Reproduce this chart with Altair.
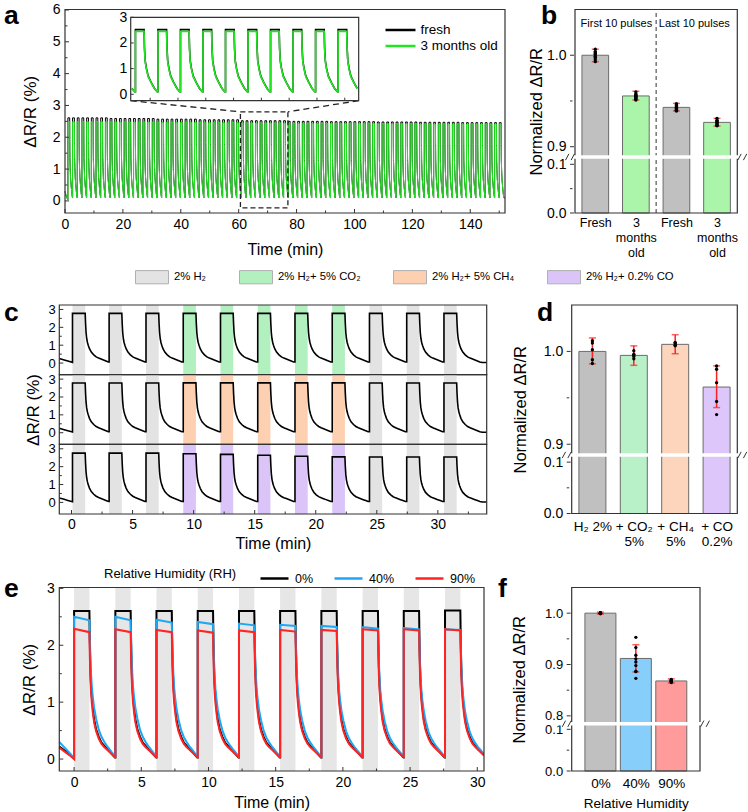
import json
import altair as alt
import pandas as pd

FONT = "Liberation Sans"
INK = "#333333"
ERR_RED = "#ff1f1f"
BREAK_SHAPE = "M-1,0.7L-0.25,-0.7M0.25,0.7L1,-0.7"
PAGE_W, PAGE_H = 748, 812

# ---------------- panel a: 150 min of H2 pulses, fresh vs aged ----------------
A_SERIES = ["fresh", "3 months old"]
A_COLORS = ["#000000", "#22e622"]
A_FIRST_ONSET = 1.0
A_PERIOD = 1.62
A_PULSE_COUNT = 93
A_ON = 0.62
A_T_END = 152.0
A_BLOCK = 15.2
A_PEAK_FRESH = [2.61, 2.59, 2.57, 2.55, 2.52, 2.50, 2.49, 2.48, 2.47, 2.46]
A_PEAK_OLD = [2.49, 2.48, 2.47, 2.46, 2.45, 2.44, 2.44, 2.43, 2.42, 2.42]
A_DECAY_DT = [0.0, 0.03, 0.08, 0.17, 0.30, 0.52, 0.75, 0.95]
A_DECAY_FR = [1.0, 0.72, 0.52, 0.40, 0.28, 0.18, 0.09, 0.04]
A_LEAD_T = [0.0, 0.5, 1.0]
A_LEAD_V = [0.30, 0.12, 0.04]
A_ZOOM_T = [60.6, 77.0]
A_ZOOM_V = [-0.22, 2.8]
A_INSET_AT_T = [22.7, 101.45]
A_INSET_AT_V = [3.149, 5.77]
A_INSET_YDOM = [-0.25, 3.0]

# ---------------- panel b ----------------
B_LABELS = ["Fresh", "3|months|old", "Fresh", "3|months|old"]
B_COLORS = ["#c0c0c0", "#aaf5aa", "#c0c0c0", "#aaf5aa"]
B_MEAN = [1.000, 0.9555, 0.9430, 0.9266]
B_LO = [0.9930, 0.9511, 0.9390, 0.9226]
B_HI = [1.0066, 0.9606, 0.9474, 0.9310]
B_PTS = [
    [1.0066, 1.004, 1.003, 1.002, 1.001, 0.999, 0.998, 0.997, 0.995, 0.993],
    [0.960, 0.958, 0.957, 0.956, 0.955, 0.955, 0.954, 0.953, 0.952, 0.951],
    [0.947, 0.946, 0.945, 0.944, 0.943, 0.942, 0.941, 0.940, 0.940, 0.939],
    [0.931, 0.929, 0.928, 0.927, 0.927, 0.926, 0.925, 0.924, 0.923, 0.923],
]
B_NOTES = ["First 10 pulses", "Last 10 pulses"]
B_NOTE_POS = [0.52, 2.44]
B_NOTE_V = [1.034, 1.034]

# ---------------- panel c: interfering gases ----------------
GAS_LABELS = ["2% H\u2082", "2% H\u2082+ 5% CO\u2082", "2% H\u2082+ 5% CH\u2084", "2% H\u2082+ 0.2% CO"]
GAS_COLORS = ["#e3e3e3", "#b3f0c0", "#fdd0b2", "#dac4f8"]
C_ONSETS = [0.08, 3.08, 6.10, 9.15, 12.20, 15.25, 18.30, 21.35, 24.40, 27.45, 30.50]
C_ON = 1.04
C_T_END = 34.0
C_GAS_TOP = [0, 0, 0, 1, 1, 1, 1, 1, 0, 0, 0]
C_GAS_MID = [0, 0, 0, 2, 2, 2, 2, 2, 0, 0, 0]
C_GAS_BOT = [0, 0, 0, 3, 3, 3, 3, 3, 0, 0, 0]
C_PEAK_TOP = [2.78, 2.78, 2.78, 2.78, 2.78, 2.78, 2.78, 2.78, 2.78, 2.78, 2.78]
C_PEAK_MID = [2.78, 2.78, 2.78, 2.79, 2.79, 2.79, 2.79, 2.79, 2.78, 2.78, 2.78]
C_PEAK_BOT = [2.76, 2.76, 2.76, 2.72, 2.69, 2.64, 2.58, 2.55, 2.54, 2.54, 2.54]
C_DECAY_DT = [0.0, 0.03, 0.07, 0.12, 0.18, 0.25, 0.35, 0.5, 0.7, 0.9, 1.1, 1.3, 1.5, 1.7, 1.9, 2.1, 2.5]
C_DECAY_FR = [1.0, 0.80, 0.62, 0.50, 0.42, 0.36, 0.29, 0.22, 0.165, 0.125, 0.10, 0.08, 0.06, 0.04, 0.02, 0.01, 0.0]
C_LEAD_T = [-1.0, -0.6, -0.3, 0.08]
C_LEAD_V = [0.25, 0.17, 0.11, 0.04]

# ---------------- panel d ----------------
D_LABELS = ["H\u2082 2%", "+ CO\u2082|5%", "+ CH\u2084|5%", "+ CO|0.2%"]
D_COLORS = ["#c0c0c0", "#b8f0c8", "#fcd5bc", "#dcc6fa"]
D_MEAN = [1.000, 0.9957, 1.0076, 0.9616]
D_LO = [0.9866, 0.9850, 0.9975, 0.9395]
D_HI = [1.0145, 1.0060, 1.0180, 0.9844]
D_PTS = [
    [1.0116, 1.0018, 0.9910, 0.9870, 1.0090],
    [1.0007, 0.9970, 0.9946, 0.9920, 0.9960],
    [1.0098, 1.0080, 1.0060, 1.0065, 1.0090],
    [0.9844, 0.9808, 0.9663, 0.9460, 0.9319],
]

# ---------------- panel e: humidity ----------------
E_SERIES = ["0%", "40%", "90%"]
E_COLORS = ["#000000", "#1ea7f5", "#ff2424"]
E_ONSETS = [0.0, 3.07, 6.13, 9.20, 12.27, 15.33, 18.40, 21.47, 24.53, 27.60]
E_ON = 1.14
E_T_END = 30.5
E_PEAK_START = {
    "0%": [2.60, 2.60, 2.60, 2.60, 2.60, 2.60, 2.60, 2.60, 2.60, 2.61],
    "40%": [2.50, 2.50, 2.45, 2.41, 2.38, 2.36, 2.34, 2.32, 2.30, 2.28],
    "90%": [2.29, 2.28, 2.27, 2.26, 2.26, 2.27, 2.27, 2.28, 2.28, 2.28],
}
E_PEAK_END = {
    "0%": [2.60, 2.60, 2.60, 2.60, 2.60, 2.60, 2.60, 2.60, 2.60, 2.61],
    "40%": [2.44, 2.44, 2.40, 2.37, 2.35, 2.34, 2.32, 2.29, 2.28, 2.27],
    "90%": [2.23, 2.23, 2.23, 2.22, 2.23, 2.24, 2.25, 2.26, 2.26, 2.26],
}
E_DECAY_DT = [0.0, 0.03, 0.07, 0.12, 0.18, 0.25, 0.35, 0.5, 0.7, 0.9, 1.1, 1.3, 1.5, 1.7, 1.9, 2.1, 2.5]
E_DECAY_FR = {
    "0%": [1.0, 0.80, 0.62, 0.50, 0.42, 0.35, 0.27, 0.20, 0.15, 0.11, 0.09, 0.07, 0.05, 0.03, 0.01, 0.0, 0.0],
    "40%": [1.0, 0.88, 0.74, 0.62, 0.52, 0.45, 0.37, 0.29, 0.21, 0.16, 0.125, 0.095, 0.07, 0.045, 0.02, 0.008, 0.0],
    "90%": [1.0, 0.82, 0.65, 0.53, 0.44, 0.37, 0.29, 0.22, 0.16, 0.12, 0.095, 0.075, 0.055, 0.035, 0.015, 0.005, 0.0],
}
E_LEAD_T = [-1.1, -0.7, -0.35, 0.0]
E_LEAD_V = {
    "0%": [0.22, 0.15, 0.08, 0.01],
    "40%": [0.30, 0.20, 0.11, 0.02],
    "90%": [0.20, 0.13, 0.07, 0.0],
}

# ---------------- panel f ----------------
F_LABELS = ["0%", "40%", "90%"]
F_COLORS = ["#c0c0c0", "#87cefa", "#ff9b9b"]
F_MEAN = [1.000, 0.9118, 0.8680]
F_LO = [0.998, 0.8856, 0.864]
F_HI = [1.002, 0.9386, 0.872]
F_PTS = [
    [1.001, 1.000, 0.999, 1.000, 1.000, 0.999, 1.001, 1.000],
    [0.953, 0.933, 0.918, 0.911, 0.905, 0.898, 0.887, 0.886, 0.873],
    [0.871, 0.869, 0.867, 0.866, 0.868, 0.870, 0.865, 0.868],
]

# ---------------- plot areas on the page (x0, x1, y0, y1 in px) ----------------
GEO = {
    "a": (65.0, 505.0, 9.5, 213.0),
    "b": (570.0, 742.3, 9.5, 213.0),
    "c": (59.3, 486.7, 305.0, 514.0),
    "d": (566.7, 742.3, 305.0, 513.5),
    "e": (59.3, 484.0, 587.5, 771.0),
    "f": (566.7, 705.0, 587.5, 771.0),
}
A_XDOM = [0, 152]
A_YDOM = [-0.38, 6.015]
C_XDOM = [-1, 34]
C_YDOM = [-0.65, 3.25]
E_XDOM = [-1.1, 30.5]
E_YDOM = [-0.21, 3.015]


def pulse_trace(onsets, on_time, h_start, h_end, decay_dt, decay_fr, t_end, lead_t, lead_v):
    """Square gas pulses: plateau while gas is on, then the recorded recovery profile."""
    t = list(lead_t)
    v = list(lead_v)
    for i, t0 in enumerate(onsets):
        t_next = onsets[i + 1] if i + 1 < len(onsets) else t_end
        t_off = t0 + on_time
        t += [t0, t_off]
        v += [h_start[i], h_end[i]]
        last = h_end[i]
        for dt, fr in zip(decay_dt[1:], decay_fr[1:]):
            if t_off + dt >= t_next:
                break
            last = h_end[i] * fr
            t.append(t_off + dt)
            v.append(last)
        t.append(t_next)
        v.append(last)
    return t, v


def lin(dom, rng):
    return alt.Scale(domain=dom, range=rng, nice=False, zero=False)


def make_axis(**kw):
    base = dict(
        grid=False, domain=False, ticks=False, labelFlush=False, labelOverlap=False,
        labelFont=FONT, titleFont=FONT, labelFontSize=14, titleFontSize=16,
        titleFontWeight=400, labelColor="black", titleColor="black",
    )
    base.update(kw)
    return alt.Axis(**base)


def axis_left(x0, **kw):
    return make_axis(orient="left", offset=-x0, **kw)


def axis_bottom(y1, **kw):
    return make_axis(orient="bottom", offset=y1 - PAGE_H, **kw)


def letter(ch, x, y):
    return alt.Chart(pd.DataFrame({"s": [ch]})).mark_text(
        fontSize=26.5, fontWeight="bold", align="left", baseline="alphabetic", color="black"
    ).encode(text="s:N", x=alt.value(x), y=alt.value(y))


def yticks(vals, ys, x0, length):
    return alt.Chart(pd.DataFrame({"tv": vals})).mark_rule(color=INK, strokeWidth=1).encode(
        y=alt.Y("tv:Q", scale=ys), x=alt.value(x0), x2=alt.value(x0 + length)
    )


def xticks(vals, xs, ybase, length):
    return alt.Chart(pd.DataFrame({"tt": vals})).mark_rule(color=INK, strokeWidth=1).encode(
        x=alt.X("tt:Q", scale=xs), y=alt.value(ybase), y2=alt.value(ybase - length)
    )


def frame(xs, ys, xdom, ydom):
    return alt.Chart(pd.DataFrame({
        "fx0": [xdom[0]], "fx1": [xdom[-1]], "fy0": [ydom[0]], "fy1": [ydom[-1]],
    })).mark_rect(fillOpacity=0, stroke=INK, strokeWidth=1.2).encode(
        x=alt.X("fx0:Q", scale=xs), x2="fx1:Q", y=alt.Y("fy0:Q", scale=ys), y2="fy1:Q"
    )


def halves(a, b, step):
    out, v = [], a
    while v <= b + 1e-9:
        out.append(round(v, 4))
        v += step
    return out


# ======================= panel a =======================
ax0, ax1, ay0, ay1 = GEO["a"]
XA = lin(A_XDOM, [ax0, ax1])
YA = lin(A_YDOM, [ay1, ay0])


def a_px_x(t):
    return ax0 + (t - A_XDOM[0]) / (A_XDOM[1] - A_XDOM[0]) * (ax1 - ax0)


def a_px_y(v):
    return ay0 + (A_YDOM[1] - v) / (A_YDOM[1] - A_YDOM[0]) * (ay1 - ay0)


a_onsets = [A_FIRST_ONSET + k * A_PERIOD for k in range(A_PULSE_COUNT)]
a_rows = []
for name, blocks in zip(A_SERIES, [A_PEAK_FRESH, A_PEAK_OLD]):
    peaks = [blocks[min(int(t0 // A_BLOCK), len(blocks) - 1)] for t0 in a_onsets]
    tt, vv = pulse_trace(a_onsets, A_ON, peaks, peaks, A_DECAY_DT, A_DECAY_FR, A_T_END, A_LEAD_T, A_LEAD_V)
    for i, (t, v) in enumerate(zip(tt, vv)):
        a_rows.append({"series": name, "t": t, "v": v, "i": i})
df_a = pd.DataFrame(a_rows)

a_lines = alt.Chart(df_a).mark_line(strokeWidth=1).encode(
    x=alt.X("t:Q", scale=XA, axis=axis_bottom(ay1, values=list(range(0, 141, 20)), title="Time (min)",
                                             titlePadding=10, labelPadding=4)),
    y=alt.Y("v:Q", scale=YA, axis=axis_left(ax0, values=list(range(0, 7)), format="d", title="\u0394R/R (%)",
                                           titlePadding=13, labelPadding=5, titleFontSize=17)),
    color=alt.Color("series:N", scale=alt.Scale(domain=A_SERIES, range=A_COLORS), legend=alt.Legend(
        title=None, orient="none", legendX=391.5, legendY=21, direction="vertical",
        symbolType="M-2,0H2", symbolSize=225, symbolStrokeWidth=2.5,
        labelFontSize=13.5, labelOffset=11, rowPadding=0, padding=0,
    )),
    order=alt.Order("i:Q"),
)
zoom_box = alt.Chart(pd.DataFrame({
    "t0": [A_ZOOM_T[0]], "t1": [A_ZOOM_T[1]], "v0": [A_ZOOM_V[0]], "v1": [A_ZOOM_V[1]],
})).mark_rect(fillOpacity=0, stroke="#222222", strokeWidth=1.3, strokeDash=[5, 3]).encode(
    x=alt.X("t0:Q", scale=XA), x2="t1:Q", y=alt.Y("v0:Q", scale=YA), y2="v1:Q"
)
connectors = alt.Chart(pd.DataFrame({
    "t0": A_INSET_AT_T, "v0": [A_INSET_AT_V[0]] * 2, "t1": A_ZOOM_T, "v1": [A_ZOOM_V[1]] * 2,
})).mark_rule(color="#222222", strokeWidth=1.3, strokeDash=[6, 4]).encode(
    x=alt.X("t0:Q", scale=XA), y=alt.Y("v0:Q", scale=YA), x2="t1:Q", y2="v1:Q"
)
a_main = alt.layer(
    a_lines, zoom_box, connectors,
    xticks(list(range(0, 141, 20)), XA, ay1, 4), xticks(list(range(10, 151, 20)), XA, ay1, 2.5),
    yticks(list(range(0, 7)), YA, ax0, 4), yticks(halves(0.5, 5.5, 1.0), YA, ax0, 2.5),
    frame(XA, YA, A_XDOM, A_YDOM),
)

# zoomed inset, placed inside panel a
in_x0, in_x1 = a_px_x(A_INSET_AT_T[0]), a_px_x(A_INSET_AT_T[1])
in_y1, in_y0 = a_px_y(A_INSET_AT_V[0]), a_px_y(A_INSET_AT_V[1])
XI = lin(A_ZOOM_T, [in_x0, in_x1])
YI = lin(A_INSET_YDOM, [in_y1, in_y0])
df_in = df_a[(df_a.t >= A_ZOOM_T[0]) & (df_a.t <= A_ZOOM_T[1])]
inset_layers = []
for k, (name, col) in enumerate(zip(A_SERIES, A_COLORS)):
    if k == 0:
        xenc = alt.X("t:Q", scale=XI, axis=axis_bottom(in_y1, labels=False, title=None))
        yenc = alt.Y("v:Q", scale=YI, axis=axis_left(in_x0, values=[0, 1, 2, 3], format="d",
                                                    title=None, labelPadding=4))
    else:
        xenc = alt.X("t:Q", scale=XI)
        yenc = alt.Y("v:Q", scale=YI)
    inset_layers.append(
        alt.Chart(df_in[df_in.series == name]).mark_line(strokeWidth=1.6, color=col).encode(
            x=xenc, y=yenc, order=alt.Order("i:Q")
        )
    )
a_inset = alt.layer(
    *inset_layers,
    xticks(list(range(62, 77, 2)), XI, in_y1, 3),
    yticks([0, 1, 2, 3], YI, in_x0, 3),
    frame(XI, YI, A_ZOOM_T, A_INSET_YDOM),
)


# ======================= bar panels (b, d, f) with a broken y axis =======================
def bar_panel(key, labels, colors, mean, lo, hi, pts, xdom, ydom, yrange, y_major, y_minor,
              bar_w, y_title_pad, label_pad, label_size, x_title=None, x_title_pad=4,
              y_label_size=14, extras=()):
    x0, x1, y0, y1 = GEO[key]
    n = len(labels)
    XS = lin(xdom, [x0, x1])
    YS = lin(ydom, yrange)
    lab_expr = "split(" + json.dumps(labels, ensure_ascii=False) + "[datum.value], '|')"
    bars_df = pd.DataFrame({"pos": list(range(n)), "mean": mean, "lo": lo, "hi": hi, "base": [0.0] * n})
    bars = alt.Chart(bars_df).mark_bar(size=bar_w, stroke="#6b6b6b", strokeWidth=1).encode(
        x=alt.X("pos:Q", scale=XS, axis=axis_bottom(
            y1, values=list(range(n)), labelExpr=lab_expr, title=x_title, labelFontSize=label_size,
            labelLineHeight=15.3, labelPadding=label_pad, titlePadding=x_title_pad, titleFontSize=13.5,
        )),
        y=alt.Y("mean:Q", scale=YS, axis=axis_left(
            x0, values=y_major, format=".1f", title="Normalized \u0394R/R", titlePadding=y_title_pad,
            titleFontSize=16.5, labelPadding=4, labelFontSize=y_label_size,
        )),
        y2="base:Q",
        fill=alt.Fill("pos:N", scale=alt.Scale(domain=list(range(n)), range=colors), legend=None),
    )
    err = alt.Chart(bars_df).mark_rule(color=ERR_RED, strokeWidth=1.5).encode(
        x=alt.X("pos:Q", scale=XS), y=alt.Y("lo:Q", scale=YS), y2="hi:Q"
    )
    caps_df = pd.DataFrame({"pos": list(range(n)) * 2, "v": list(lo) + list(hi)})
    caps = alt.Chart(caps_df).mark_tick(color=ERR_RED, thickness=1.5, size=7, orient="horizontal").encode(
        x=alt.X("pos:Q", scale=XS), y=alt.Y("v:Q", scale=YS)
    )
    pts_df = pd.DataFrame([{"pos": i, "v": p} for i, ps in enumerate(pts) for p in ps])
    dots = alt.Chart(pts_df).mark_circle(size=11, color="black", opacity=1).encode(
        x=alt.X("pos:Q", scale=XS), y=alt.Y("v:Q", scale=YS)
    )
    brk_df = pd.DataFrame({"v": [(ydom[1] + ydom[2]) / 2]})
    gap = alt.Chart(brk_df).mark_rule(color="white", strokeWidth=3.5).encode(
        y=alt.Y("v:Q", scale=YS), x=alt.value(x0 - 15), x2=alt.value(x1 + 6)
    )
    brk = [
        alt.Chart(brk_df).mark_point(shape=BREAK_SHAPE, size=80, filled=False, color=INK,
                                     strokeWidth=1, opacity=1).encode(y=alt.Y("v:Q", scale=YS), x=alt.value(px))
        for px in (x0, x1)
    ]
    layers = [bars]
    for ex in extras:
        layers.append(ex(XS, YS))
    layers += [frame(XS, YS, xdom, ydom), gap, err, caps, dots, *brk,
               yticks(y_major, YS, x0, 4), yticks(y_minor, YS, x0, 2.5)]
    return alt.layer(*layers)


def b_divider(XS, YS):
    return alt.Chart(pd.DataFrame({"pos": [1.5], "v0": [0.0], "v1": [1.05]})).mark_rule(
        color="#555555", strokeDash=[4, 3], strokeWidth=1.2
    ).encode(x=alt.X("pos:Q", scale=XS), y=alt.Y("v0:Q", scale=YS), y2="v1:Q")


def b_notes(XS, YS):
    return alt.Chart(pd.DataFrame({"pos": B_NOTE_POS, "v": B_NOTE_V, "txt": B_NOTES})).mark_text(
        fontSize=11, color="black"
    ).encode(x=alt.X("pos:Q", scale=XS), y=alt.Y("v:Q", scale=YS), text="txt:N")


panel_b = bar_panel(
    "b", B_LABELS, B_COLORS, B_MEAN, B_LO, B_HI, B_PTS, [-0.5, 3.5],
    [0, 0.1119, 0.8904, 1.05], [213.0, 158.5, 155.5, 9.5], [0, 0.1, 0.9, 1.0], [0.05, 0.95],
    26.7, 2, 3, 12.5, extras=(b_divider, b_notes),
)
panel_d = bar_panel(
    "d", D_LABELS, D_COLORS, D_MEAN, D_LO, D_HI, D_PTS, [-0.5, 3.5],
    [0, 0.111, 0.89, 1.05], [513.5, 456.5, 453.5, 305.0], [0, 0.1, 0.9, 1.0], [0.05, 0.95],
    27, 15, 6, 13.5,
)
panel_f = bar_panel(
    "f", F_LABELS, F_COLORS, F_MEAN, F_LO, F_HI, F_PTS, [-0.81, 2.81],
    [0, 0.108, 0.789, 1.05], [771.0, 726.0, 721.5, 587.5], [0, 0.1, 0.8, 0.9, 1.0], [0.05, 0.85, 0.95],
    31, 17, 5, 13.5, x_title="Relative Humidity", x_title_pad=7, y_label_size=13,
)

# ======================= panel c: three stacked traces =======================
cx0, cx1, cy0, cy1 = GEO["c"]
sub_h = (cy1 - cy0) / 3
GAS_SCALE = alt.Scale(domain=GAS_LABELS, range=GAS_COLORS)


def c_sub(row, gas_idx, peaks):
    top, bot = cy0 + row * sub_h, cy0 + (row + 1) * sub_h
    XC = lin(C_XDOM, [cx0, cx1])
    YC = lin(C_YDOM, [bot, top])
    bands_df = pd.DataFrame({
        "start": C_ONSETS, "end": [t + C_ON for t in C_ONSETS], "gas": [GAS_LABELS[g] for g in gas_idx],
        "lo": [C_YDOM[0]] * len(C_ONSETS), "hi": [C_YDOM[1]] * len(C_ONSETS),
    })
    tt, vv = pulse_trace(C_ONSETS, C_ON, peaks, peaks, C_DECAY_DT, C_DECAY_FR, C_T_END, C_LEAD_T, C_LEAD_V)
    trace_df = pd.DataFrame({"t": tt, "v": vv, "i": list(range(len(tt)))})
    legend = alt.Legend(
        title=None, orient="none", legendX=135, legendY=260, direction="horizontal",
        symbolType="M-1,-0.4H1V0.4H-1Z", symbolSize=1089, symbolStrokeColor="#b0b0b0",
        symbolStrokeWidth=1, symbolOpacity=1, labelFontSize=11.3, labelOffset=5, columnPadding=30,
        gridAlign="each", padding=0,
    ) if row == 0 else None
    if row == 2:
        xaxis = axis_bottom(bot, values=list(range(0, 31, 5)), title="Time (min)", titlePadding=4, labelPadding=3)
    else:
        xaxis = axis_bottom(bot, labels=False, title=None)
    bands = alt.Chart(bands_df).mark_rect().encode(
        x=alt.X("start:Q", scale=XC, axis=xaxis), x2="end:Q",
        y=alt.Y("lo:Q", scale=YC, axis=axis_left(
            cx0, values=[0, 1, 2, 3], format="d", title="\u0394R/R (%)" if row == 1 else None,
            labelFontSize=13, titlePadding=6, labelPadding=4, titleFontSize=17,
        )),
        y2="hi:Q",
        color=alt.Color("gas:N", scale=GAS_SCALE, legend=legend),
    )
    line = alt.Chart(trace_df).mark_line(color="black", strokeWidth=1.6).encode(
        x=alt.X("t:Q", scale=XC), y=alt.Y("v:Q", scale=YC), order=alt.Order("i:Q"),
    )
    layers = [bands, line, yticks([0, 1, 2, 3], YC, cx0, 4), yticks([0.5, 1.5, 2.5], YC, cx0, 2.5)]
    if row == 2:
        layers += [xticks(list(range(0, 31, 5)), XC, bot, 4), xticks(halves(2.5, 32.5, 5), XC, bot, 2.5)]
    layers.append(frame(XC, YC, C_XDOM, C_YDOM))
    return alt.layer(*layers)


# ======================= panel e =======================
ex0, ex1, ey0, ey1 = GEO["e"]
XE = lin(E_XDOM, [ex0, ex1])
YE = lin(E_YDOM, [ey1, ey0])
e_rows = []
for name in E_SERIES:
    tt, vv = pulse_trace(E_ONSETS, E_ON, E_PEAK_START[name], E_PEAK_END[name], E_DECAY_DT,
                         E_DECAY_FR[name], E_T_END, E_LEAD_T, E_LEAD_V[name])
    for i, (t, v) in enumerate(zip(tt, vv)):
        e_rows.append({"rh": name, "t": t, "v": v, "i": i})
df_e = pd.DataFrame(e_rows)
e_bands = alt.Chart(pd.DataFrame({
    "start": E_ONSETS, "end": [t + E_ON for t in E_ONSETS],
    "lo": [E_YDOM[0]] * len(E_ONSETS), "hi": [E_YDOM[1]] * len(E_ONSETS),
})).mark_rect(color="#e6e6e6").encode(
    x=alt.X("start:Q", scale=XE, axis=axis_bottom(ey1, values=list(range(0, 31, 5)), title="Time (min)",
                                                 titlePadding=5, labelPadding=4)),
    x2="end:Q",
    y=alt.Y("lo:Q", scale=YE, axis=axis_left(ex0, values=[0, 1, 2, 3], format="d", title="\u0394R/R (%)",
                                            titlePadding=8, labelPadding=5, titleFontSize=17)),
    y2="hi:Q",
)
e_lines = alt.Chart(df_e).mark_line(strokeWidth=2).encode(
    x=alt.X("t:Q", scale=XE),
    y=alt.Y("v:Q", scale=YE),
    color=alt.Color("rh:N", scale=alt.Scale(domain=E_SERIES, range=E_COLORS), legend=alt.Legend(
        title="Relative Humidity (RH)", titleOrient="left", orient="none", legendX=104, legendY=563,
        direction="horizontal", symbolType="stroke", symbolSize=784, symbolStrokeWidth=2.5,
        labelFontSize=12.5, titleFontSize=13, titleFontWeight=400, titlePadding=22,
        columnPadding=15, gridAlign="each", labelOffset=5, padding=0,
    )),
    order=alt.Order("i:Q"),
)
panel_e = alt.layer(
    e_bands, e_lines,
    xticks(list(range(0, 31, 5)), XE, ey1, 4), xticks(halves(2.5, 27.5, 5), XE, ey1, 2.5),
    yticks([0, 1, 2, 3], YE, ex0, 4), yticks([0.5, 1.5, 2.5], YE, ex0, 2.5),
    frame(XE, YE, E_XDOM, E_YDOM),
)

# ======================= panel letters =======================
letters = alt.layer(
    letter("a", 4, 23.5), letter("b", 541, 23.5), letter("c", 4, 321), letter("d", 537, 321),
    letter("e", 4, 597), letter("f", 498, 597),
)

chart = alt.layer(
    a_main, a_inset, panel_b,
    c_sub(0, C_GAS_TOP, C_PEAK_TOP), c_sub(1, C_GAS_MID, C_PEAK_MID), c_sub(2, C_GAS_BOT, C_PEAK_BOT),
    panel_d, panel_e, panel_f, letters,
).resolve_scale(
    x="independent", y="independent", color="independent", fill="independent"
).properties(
    width=PAGE_W, height=PAGE_H, autosize=alt.AutoSizeParams(type="none"), padding=0, background="white"
).configure(font=FONT).configure_view(stroke=None).configure_legend(
    labelFont=FONT, titleFont=FONT, labelColor="black", titleColor="black"
)

chart.save("out.html", embed_options={"renderer": "svg", "actions": False})
